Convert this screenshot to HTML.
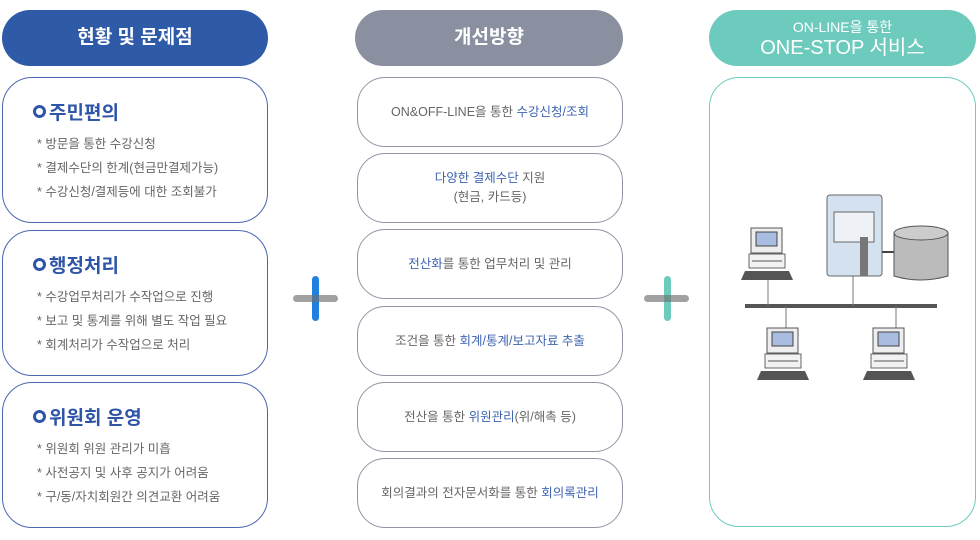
<!DOCTYPE html>
<html><head><meta charset="utf-8"><style>
*{margin:0;padding:0;box-sizing:border-box}
body{width:980px;height:540px;background:#fff;position:relative;overflow:hidden;font-family:"Liberation Sans","Noto Sans CJK KR",sans-serif}
.a{position:absolute}
.hd{position:absolute;top:10px;height:56px;border-radius:28px;color:#fff;text-align:center}
.lb{position:absolute;left:2px;width:266px;height:146px;border:1.5px solid #4a67b0;border-radius:30px}
.lb h3{position:absolute;left:30px;top:20px;font-size:19px;color:#2f55a8;font-weight:bold;display:flex;align-items:center}
.lb h3 i{display:inline-block;width:13px;height:13px;border:3px solid #2f55a8;border-radius:50%;margin-right:3px}
.lb p{position:absolute;left:34px;font-size:12.5px;color:#666}
.mb{position:absolute;left:357px;width:266px;height:70px;border:1.3px solid #8f95a6;border-radius:28px;display:flex;align-items:center;justify-content:center;text-align:center;font-size:12.5px;color:#666;line-height:19px}
.mb b{font-weight:normal;color:#3f64b0}
</style></head><body>
<div class="hd" style="left:2px;width:266px;background:#2f5aa8;font-size:19px;font-weight:bold;line-height:56px">현황 및 문제점</div>
<div class="hd" style="left:355px;width:268px;background:#8a909f;font-size:19px;font-weight:bold;line-height:56px">개선방향</div>
<div class="hd" style="left:709px;width:267px;background:#6dcbbe"><div style="font-size:14px;margin-top:9px;line-height:17px">ON-LINE을 통한</div><div style="font-size:20px;line-height:25px">ONE-STOP 서비스</div></div>

<div class="lb" style="top:77px"><h3><i></i>주민편의</h3><p style="top:55px">* 방문을 통한 수강신청</p><p style="top:79px">* 결제수단의 한계(현금만결제가능)</p><p style="top:103px">* 수강신청/결제등에 대한 조회불가</p></div>
<div class="lb" style="top:230px"><h3><i></i>행정처리</h3><p style="top:55px">* 수강업무처리가 수작업으로 진행</p><p style="top:79px">* 보고 및 통계를 위해 별도 작업 필요</p><p style="top:103px">* 회계처리가 수작업으로 처리</p></div>
<div class="lb" style="top:382px"><h3><i></i>위원회 운영</h3><p style="top:55px">* 위원회 위원 관리가 미흡</p><p style="top:79px">* 사전공지 및 사후 공지가 어려움</p><p style="top:103px">* 구/동/자치회원간 의견교환 어려움</p></div>

<div class="mb" style="top:77px"><span>ON&amp;OFF-LINE을 통한 <b>수강신청/조회</b></span></div>
<div class="mb" style="top:153px"><span><b>다양한 결제수단</b> 지원<br>(현금, 카드등)</span></div>
<div class="mb" style="top:229px"><span><b>전산화</b>를 통한 업무처리 및 관리</span></div>
<div class="mb" style="top:306px"><span>조건을 통한 <b>회계/통계/보고자료 추출</b></span></div>
<div class="mb" style="top:382px"><span>전산을 통한 <b>위원관리</b>(위/해촉 등)</span></div>
<div class="mb" style="top:458px"><span>회의결과의 전자문서화를 통한 <b>회의록관리</b></span></div>

<div class="a" style="left:709px;top:77px;width:267px;height:450px;border:1.5px solid #6dcbbe;border-radius:30px"></div>

<div class="a" style="left:312px;top:276px;width:7px;height:45px;background:#2080e0;border-radius:4px"></div>
<div class="a" style="left:293px;top:295px;width:45px;height:7px;background:rgba(110,110,110,.65);border-radius:4px"></div>
<div class="a" style="left:664px;top:276px;width:7px;height:45px;background:#6dcbbe;border-radius:4px"></div>
<div class="a" style="left:644px;top:295px;width:45px;height:7px;background:rgba(110,110,110,.65);border-radius:4px"></div>

<svg class="a" style="left:0;top:0" width="980" height="540">
<defs><g id="pc">
<rect x="14" y="0" width="31" height="25" fill="#eee" stroke="#555"/>
<rect x="19" y="4" width="21" height="14" fill="#a9bde0" stroke="#444"/>
<rect x="12" y="26" width="36" height="14" fill="#f2f2f2" stroke="#666"/>
<line x1="15" y1="33" x2="45" y2="33" stroke="#555"/>
<path d="M4 52 L8 43 L52 43 L56 52 Z" fill="#555"/>
</g></defs>
<line x1="745" y1="306" x2="937" y2="306" stroke="#555" stroke-width="4"/>
<line x1="768" y1="280" x2="768" y2="306" stroke="#777"/>
<line x1="853" y1="276" x2="853" y2="306" stroke="#777"/>
<line x1="786" y1="306" x2="786" y2="330" stroke="#777"/>
<line x1="896" y1="306" x2="896" y2="330" stroke="#777"/>
<rect x="827" y="195" width="55" height="81" rx="3" fill="#d4e2ef" stroke="#666"/>
<rect x="834" y="212" width="40" height="30" fill="#eef2f6" stroke="#666"/>
<rect x="860" y="237" width="8" height="39" fill="#777"/>
<line x1="882" y1="252" x2="895" y2="252" stroke="#444" stroke-width="2"/>
<path d="M894 233 Q920 222 948 233 L948 276 Q920 284 894 276 Z" fill="#bbb" stroke="#555"/>
<ellipse cx="921" cy="233" rx="27" ry="7" fill="#ccc" stroke="#555"/>
<use href="#pc" x="737" y="228"/>
<use href="#pc" x="753" y="328"/>
<use href="#pc" x="859" y="328"/>
</svg>
</body></html>
